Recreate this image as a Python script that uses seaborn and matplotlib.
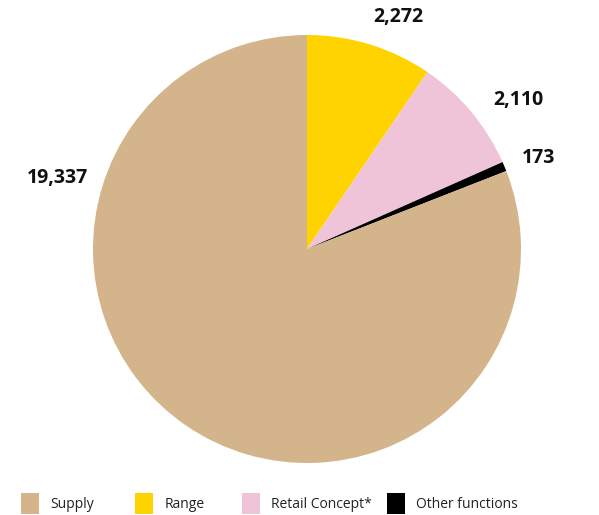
import matplotlib
matplotlib.use("Agg")
import matplotlib.pyplot as plt
import seaborn as sns
from matplotlib.patches import Patch

sns.set_theme(style="white")
plt.rcParams['font.family'] = ['Open Sans', 'DejaVu Sans']

categories = ["Range", "Retail Concept*", "Other functions", "Supply"]
values = [2272, 2110, 173, 19337]
value_labels = ["2,272", "2,110", "173", "19,337"]
colors = ["#FFD300", "#F0C4D8", "#000000", "#D4B48A"]
legend_order = ["Supply", "Range", "Retail Concept*", "Other functions"]
label_pos = [(0.425, 1.084), (0.99, 0.696), (1.084, 0.425), (-1.168, 0.332)]
legend_x = [21, 135, 242, 387]

W, H = 599, 515
fig = plt.figure(figsize=(W / 100, H / 100), dpi=100)
cx, cy, r = 307, 249, 214
ax = fig.add_axes([(cx - r) / W, (H - cy - r) / H, 2 * r / W, 2 * r / H])
ax.pie(values, colors=colors, startangle=90, counterclock=False, radius=1,
       wedgeprops=dict(linewidth=0))
ax.set_xlim(-1, 1)
ax.set_ylim(-1, 1)
ax.set_aspect('equal')
ax.axis('off')

for (x, y), t in zip(label_pos, value_labels):
    ax.text(x, y, t, ha='center', va='center', fontsize=14, fontweight='bold',
            color='#111111', clip_on=False)

cmap = dict(zip(categories, colors))
for c, lx in zip(legend_order, legend_x):
    h = Patch(facecolor=cmap[c], edgecolor='none', label=c)
    fig.legend(handles=[h], loc='center left', bbox_to_anchor=(lx / W, 1 - 503.5 / H),
               frameon=False, fontsize=10, handlelength=1.3, handleheight=1.95,
               handletextpad=0.8, borderpad=0, borderaxespad=0,
               labelcolor='#222222')

fig.savefig("out.png", dpi=100)
